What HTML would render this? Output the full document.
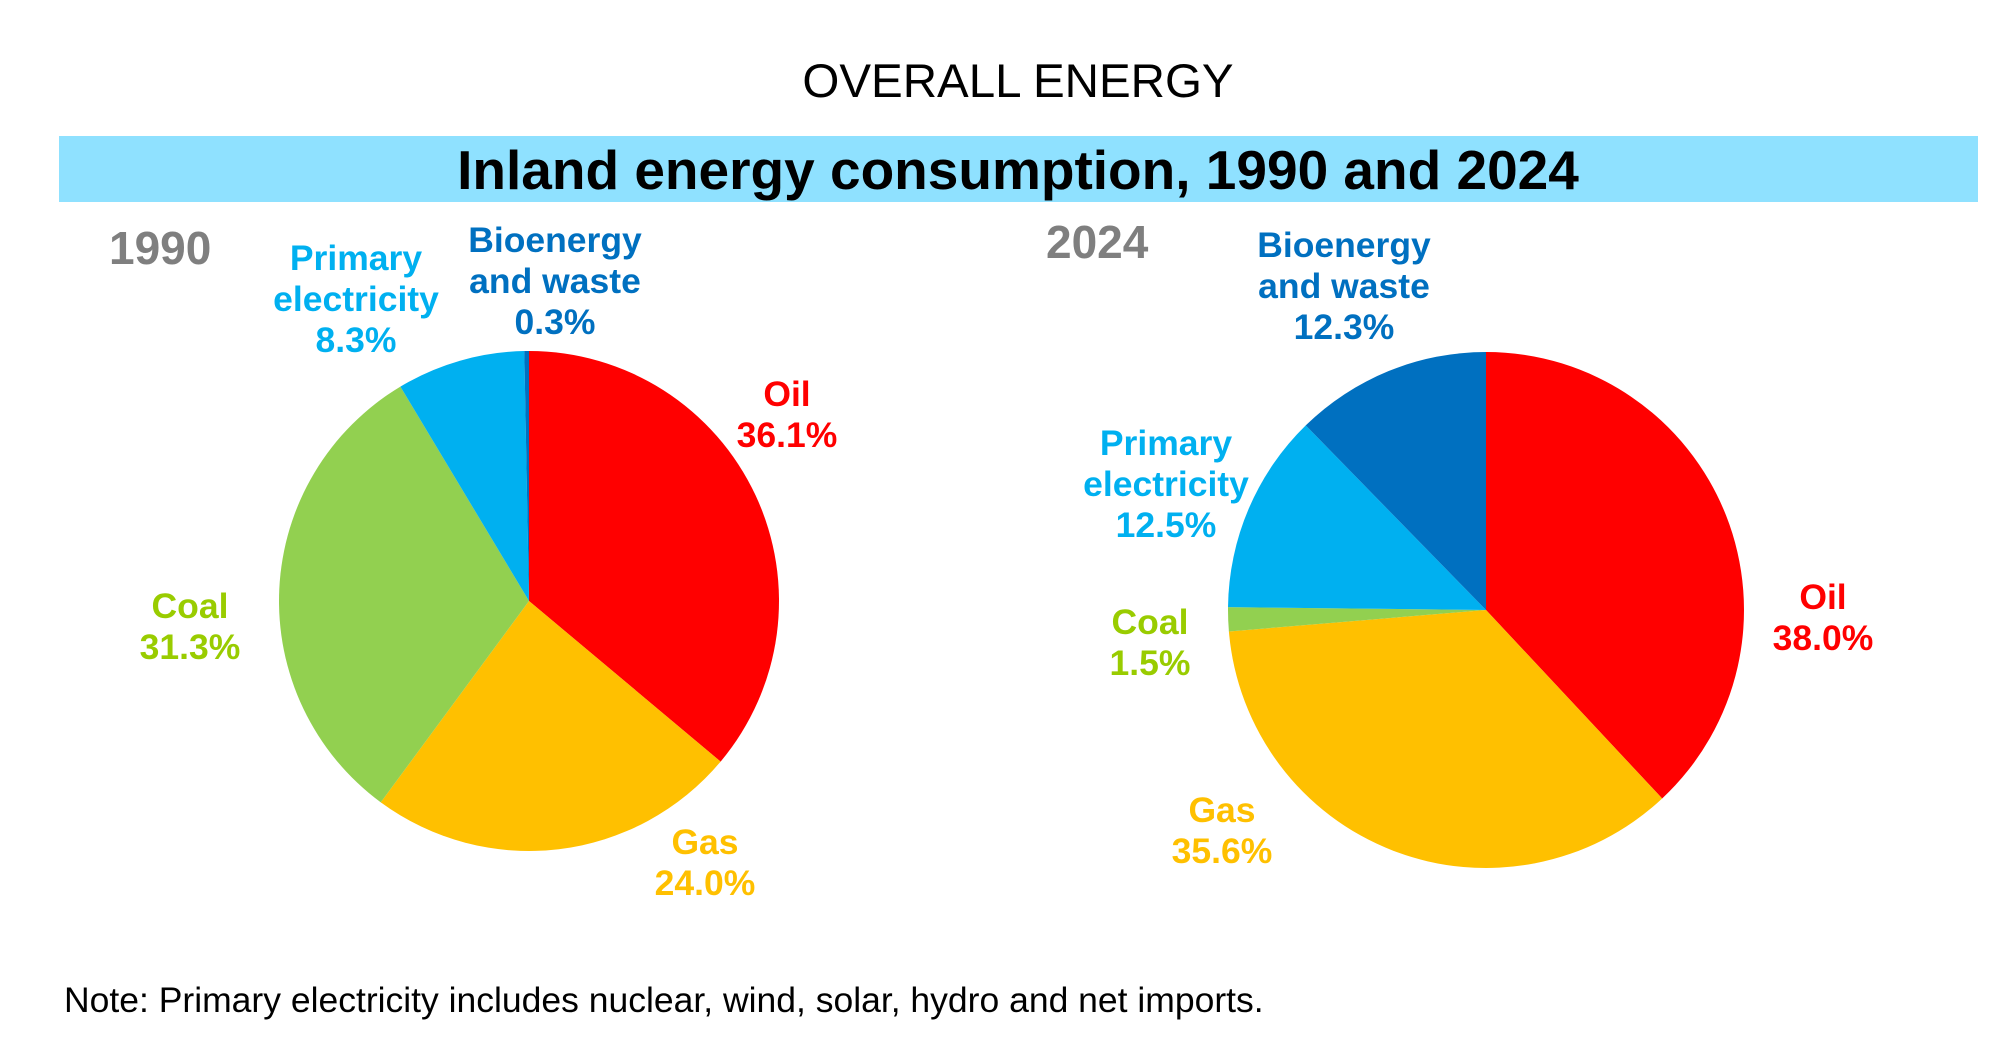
<!DOCTYPE html>
<html><head><meta charset="utf-8"><style>
body{margin:0;background:#fff}
svg{display:block}
text{font-family:"Liberation Sans",Arial,sans-serif}
.lb{font-weight:bold;font-size:35.5px;text-anchor:middle}
</style></head><body>
<svg id="chart" width="1990" height="1062" viewBox="0 0 1990 1062">
<text x="1018" y="97" font-size="47.5" text-anchor="middle">OVERALL ENERGY</text>
<rect x="59" y="136" width="1919" height="66" fill="#8FE1FF"/>
<text x="1018" y="189" font-size="55" font-weight="bold" text-anchor="middle">Inland energy consumption, 1990 and 2024</text>
<text x="109" y="264" font-size="46" font-weight="bold" fill="#7F7F7F">1990</text>
<text x="1046" y="258" font-size="46" font-weight="bold" fill="#7F7F7F">2024</text>
<g id="pie1"></g>
<g id="pie2"></g>
<g id="labels"></g>
<text x="64" y="1012" font-size="35.5">Note: Primary electricity includes nuclear, wind, solar, hydro and net imports.</text>
</svg>
<script>
const categories=["Oil","Gas","Coal","Primary electricity","Bioenergy and waste"];
const values1990=[36.1,24.0,31.3,8.3,0.3];
const values2024=[38.0,35.6,1.5,12.5,12.3];
const colors=["#FF0000","#FFC000","#92D050","#00B0F0","#0070C0"];
const labelColors=["#FF0000","#FFC000","#99CC00","#00B0F0","#0070C0"];
const NS="http://www.w3.org/2000/svg";
function drawPie(g,vals,cx,cy,r){
  const tot=vals.reduce((a,b)=>a+b,0);let a0=-Math.PI/2;
  vals.forEach((v,i)=>{
    const a1=a0+v/tot*2*Math.PI;
    const x0=cx+r*Math.cos(a0),y0=cy+r*Math.sin(a0),x1=cx+r*Math.cos(a1),y1=cy+r*Math.sin(a1);
    const p=document.createElementNS(NS,"path");
    p.setAttribute("d",`M${cx},${cy}L${x0},${y0}A${r},${r} 0 ${a1-a0>Math.PI?1:0} 1 ${x1},${y1}Z`);
    p.setAttribute("fill",colors[i]);
    
    
    g.appendChild(p);a0=a1;
  });
}
drawPie(document.getElementById("pie1"),values1990,529,601,250);
drawPie(document.getElementById("pie2"),values2024,1486,610,258);
const L=document.getElementById("labels");
function label(i,vals,x,y,lines){
  const t=document.createElementNS(NS,"text");
  t.setAttribute("class","lb");t.setAttribute("fill",labelColors[i]);
  
  
  const all=lines.concat([vals[i].toFixed(1)+"%"]);
  all.forEach((s,k)=>{const ts=document.createElementNS(NS,"tspan");ts.setAttribute("x",x);ts.setAttribute("y",y+k*41);ts.textContent=s;t.appendChild(ts);});
  L.appendChild(t);
}
label(3,values1990,356,270,["Primary","electricity"]);
label(4,values1990,555,252,["Bioenergy","and waste"]);
label(0,values1990,787,406,["Oil"]);
label(2,values1990,190,618,["Coal"]);
label(1,values1990,705,854,["Gas"]);
label(4,values2024,1344,257,["Bioenergy","and waste"]);
label(3,values2024,1166,455,["Primary","electricity"]);
label(2,values2024,1150,634,["Coal"]);
label(0,values2024,1823,609,["Oil"]);
label(1,values2024,1222,822,["Gas"]);
</script>
</body></html>
